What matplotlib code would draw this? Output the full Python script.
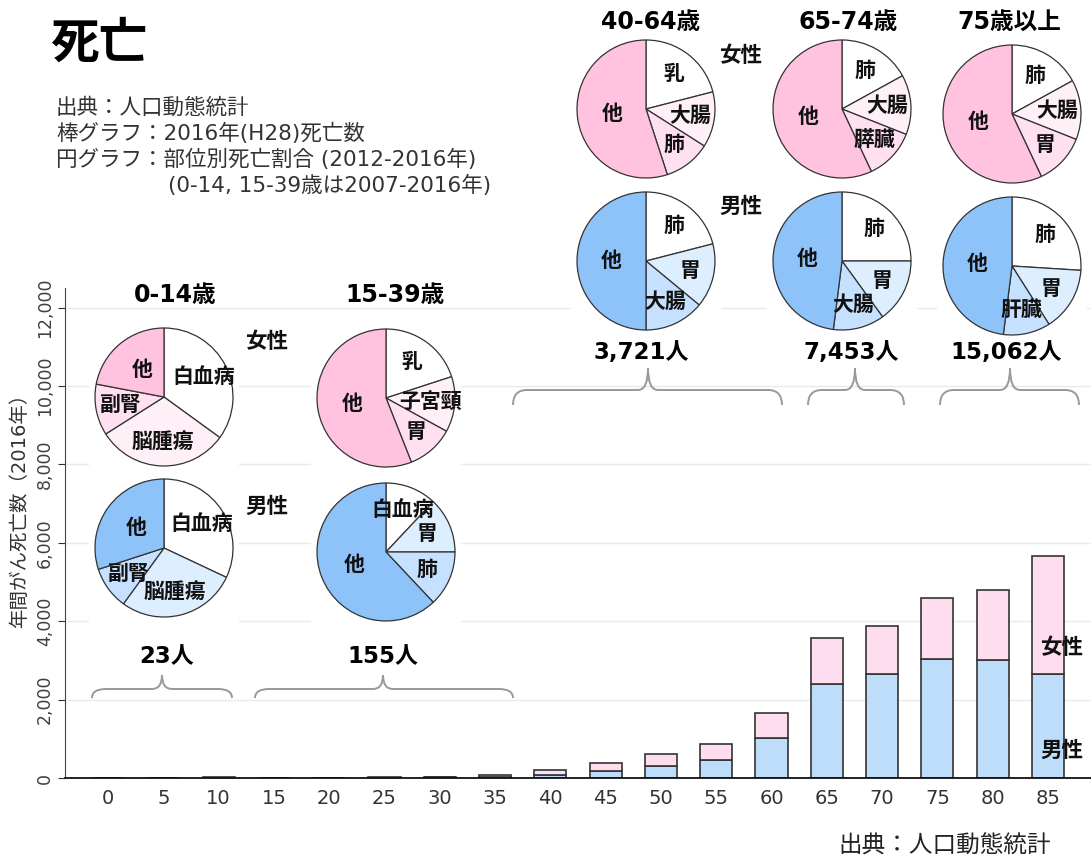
import matplotlib.pyplot as plt
import matplotlib.patches as mpatches
from matplotlib.path import Path
import numpy as np

plt.rcParams['font.family'] = ['DejaVu Sans', 'Noto Sans CJK JP']

W, H = 1091, 859

# bar chart: annual cancer deaths by 5-year age group (2016)
ages = [0, 5, 10, 15, 20, 25, 30, 35, 40, 45, 50, 55, 60, 65, 70, 75, 80, 85]
male = [2, 3, 7, 4, 5, 10, 14, 35, 85, 172, 318, 464, 1030, 2386, 2652, 3047, 3004, 2652]
female = [2, 3, 6, 4, 5, 12, 21, 45, 115, 214, 300, 394, 629, 1194, 1221, 1553, 1796, 3010]

# age groups used for the pies (index ranges into ages)
group_names = ['0-14歳', '15-39歳', '40-64歳', '65-74歳', '75歳以上']
group_ranges = [(0, 3), (3, 8), (8, 13), (13, 15), (15, 18)]

# pies: share of deaths by site, clockwise from 12 o'clock (%)
f_labels = [['白血病', '脳腫瘍', '副腎', '他'],
            ['乳', '子宮頸', '胃', '他'],
            ['乳', '大腸', '肺', '他'],
            ['肺', '大腸', '膵臓', '他'],
            ['肺', '大腸', '胃', '他']]
f_values = [[35, 31, 12, 22],
            [20, 13, 11, 56],
            [21, 13, 11, 55],
            [17, 14, 12, 57],
            [17, 14, 12, 57]]
m_labels = [['白血病', '脳腫瘍', '副腎', '他'],
            ['白血病', '胃', '肺', '他'],
            ['肺', '胃', '大腸', '他'],
            ['肺', '胃', '大腸', '他'],
            ['肺', '胃', '肝臓', '他']]
m_values = [[32, 28, 10, 30],
            [12, 13, 13, 62],
            [21, 15, 14, 50],
            [25, 15, 12, 48],
            [26, 15, 11, 48]]

f_colors = ['#FFFFFF', '#FFF0F8', '#FFE0F0', '#FFC3E0']
m_colors = ['#FFFFFF', '#DDEEFF', '#C6E1FF', '#8DC3F9']

# layout (pixel positions)
R = 69
pos_f = [(164, 397), (386, 398), (646, 109), (842, 109), (1012, 114)]
pos_m = [(164, 548), (386, 552), (646, 261), (842, 261), (1012, 266)]
title_pos = [(175, 295), (395, 295), (651, 22), (848, 22), (1009, 22)]
count_pos = [(167, 657), (383, 657), (641, 352), (851, 352), (1006, 352)]
braces = [(92, 232, 162, 675, 689, 698), (255, 513, 383, 675, 689, 698),
          (513, 782, 648, 368, 390, 405), (808, 904, 855, 368, 390, 405),
          (940, 1079, 1010, 368, 390, 405)]

fig = plt.figure(figsize=(W / 100, H / 100), dpi=100)

# ---- bar chart
ax = fig.add_axes([65 / W, 81 / H, 1026 / W, 490 / H])
x = np.arange(len(ages))
ax.bar(x, male, width=0.58, color='#BDDDFA', edgecolor='#333333', linewidth=1.2)
ax.bar(x, female, width=0.58, bottom=male, color='#FDDDEE', edgecolor='#333333', linewidth=1.2)
ax.set_xlim(-0.78, 17.78)
ax.set_ylim(0, 12500)
ax.set_xticks(x)
ax.set_xticklabels([str(a) for a in ages], fontsize=14, color='#333333')
ax.set_yticks(np.arange(0, 12001, 2000))
ax.set_yticklabels([f'{v:,}' for v in range(0, 12001, 2000)], fontsize=12.5,
                   color='#404040', rotation=90, va='center')
ax.tick_params(axis='x', length=0, pad=8)
ax.tick_params(axis='y', length=5, color='#333333', pad=3)
ax.yaxis.grid(True, color='#E4ECEE', linewidth=1)
ax.set_axisbelow(True)
for s in ['top', 'right']:
    ax.spines[s].set_visible(False)
ax.spines['left'].set_color('#444444')
ax.spines['bottom'].set_color('#111111')
ax.spines['bottom'].set_linewidth(1.3)


# ---- pies
def draw_pie(cx, cy, values, labels, colors):
    pad = 1.08
    pax = fig.add_axes([(cx - R * pad) / W, 1 - (cy + R * pad) / H,
                        2 * R * pad / W, 2 * R * pad / H])
    pax.add_patch(mpatches.Rectangle((-pad, -pad), 2 * pad, 2 * pad,
                                     color='white', zorder=0))
    wedges, _ = pax.pie(values, colors=colors, startangle=90, counterclock=False,
                        wedgeprops=dict(edgecolor='#333333', linewidth=0.9))
    pax.set_xlim(-pad, pad)
    pax.set_ylim(-pad, pad)
    for w, lab in zip(wedges, labels):
        ang = np.deg2rad((w.theta1 + w.theta2) / 2)
        d = 0.5 if lab == '他' else 0.65
        pax.text(d * np.cos(ang), d * np.sin(ang), lab, ha='center', va='center',
                 fontsize=15, fontweight='bold', color='#111111', clip_on=False)


for i in range(5):
    draw_pie(*pos_f[i], f_values[i], f_labels[i], f_colors)
    draw_pie(*pos_m[i], m_values[i], m_labels[i], m_colors)

# ---- overlay for texts and braces
ov = fig.add_axes([0, 0, 1, 1])
ov.set_xlim(0, W)
ov.set_ylim(H, 0)
ov.axis('off')

ov.text(50, 44, '死亡', fontsize=35, fontweight='bold', color='#000000', va='center')
info = ['出典：人口動態統計', '棒グラフ：2016年(H28)死亡数', '円グラフ：部位別死亡割合 (2012-2016年)']
for k, t in enumerate(info):
    ov.text(56, 108 + 25.5 * k, t, fontsize=15.5, color='#333333', va='center')
ov.text(168, 185, '(0-14, 15-39歳は2007-2016年)', fontsize=15.5, color='#333333', va='center')

for i, name in enumerate(group_names):
    ov.text(*title_pos[i], name, fontsize=17, fontweight='bold', ha='center', va='center')
    a, b = group_ranges[i]
    total = sum(male[a:b]) + sum(female[a:b])
    ov.text(*count_pos[i], f'{total:,}人', fontsize=16.5, fontweight='bold',
            ha='center', va='center')

for lab, px, py in [('女性', 267, 342), ('男性', 267, 507), ('女性', 741, 56), ('男性', 741, 207),
                    ('女性', 1062, 648), ('男性', 1062, 751)]:
    ov.text(px, py, lab, fontsize=15.5, fontweight='bold', ha='center', va='center', color='#111111')

for x0, x1, xm, yt, yl, yb in braces:
    r1, r2 = 14, 10
    verts = [(x0, yb), (x0, yl), (x0 + r1, yl), (xm - r2, yl), (xm, yl), (xm, yt),
             (xm, yl), (xm + r2, yl), (x1 - r1, yl), (x1, yl), (x1, yb)]
    codes = [Path.MOVETO, Path.CURVE3, Path.CURVE3, Path.LINETO, Path.CURVE3, Path.CURVE3,
             Path.CURVE3, Path.CURVE3, Path.LINETO, Path.CURVE3, Path.CURVE3]
    ov.add_patch(mpatches.PathPatch(Path(verts, codes), facecolor='none',
                                    edgecolor='#999999', linewidth=1.4))

ov.text(20, 506, '年間がん死亡数（2016年）', fontsize=14, color='#333333', rotation=90,
        ha='center', va='center')
ov.text(945, 846, '出典：人口動態統計', fontsize=17, color='#222222', ha='center', va='center')

fig.savefig('out.png', dpi=100)
